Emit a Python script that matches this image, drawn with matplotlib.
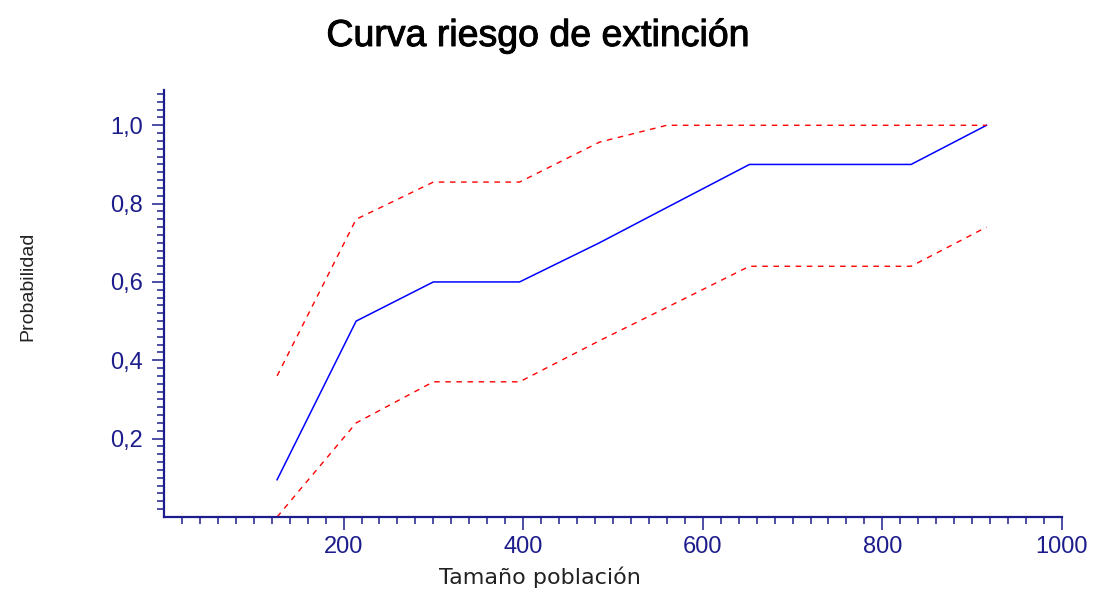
import numpy as np
import matplotlib
matplotlib.use('Agg')
from matplotlib import pyplot as plt
from matplotlib import patheffects
from matplotlib import font_manager
from matplotlib.ticker import FixedLocator, FuncFormatter

## values
tamano = [126, 214, 300, 396, 485, 560, 652, 832, 916]
riesgo = [0.095, 0.50, 0.60, 0.60, 0.70, 0.79, 0.90, 0.90, 1.00]
limite_sup = [0.36, 0.76, 0.855, 0.855, 0.957, 1.00, 1.00, 1.00, 1.00]
limite_inf = [0.00, 0.24, 0.345, 0.345, 0.45, 0.535, 0.64, 0.64, 0.74]

x_major = [200, 400, 600, 800, 1000]
y_major = [0.2, 0.4, 0.6, 0.8, 1.0]

navy = '#1c1c8c'
plt.rcParams['font.family'] = ['Liberation Sans', 'DejaVu Sans']

names = {f.name for f in font_manager.fontManager.ttflist}
if 'Liberation Sans Narrow' in names:
    ylab_font, ylab_size = ['Liberation Sans Narrow'], 17
else:
    ylab_font, ylab_size = ['Liberation Sans'], 14

fig = plt.figure(figsize=(10.93, 5.99), dpi=100, facecolor='w')
ax = fig.add_axes([0.150, 0.137, 0.8216, 0.7127])

ax.plot(tamano, riesgo, color='#0000ff', lw=1.1, clip_on=False)
ax.plot(tamano, limite_sup, color='#ff0000', lw=1.0, ls=(0, (4, 4)), clip_on=False)
ax.plot(tamano, limite_inf, color='#ff0000', lw=1.0, ls=(0, (4, 4)), clip_on=False)

ax.set_xlim(0, 1000)
ax.set_ylim(0, 1.09)

[ax.spines[loc].set_visible(False) for loc in ['top', 'right']]
for loc in ['left', 'bottom']:
    ax.spines[loc].set_color(navy)
    ax.spines[loc].set_linewidth(1.6)

ax.xaxis.set_major_locator(FixedLocator(x_major))
ax.xaxis.set_minor_locator(FixedLocator([v for v in range(20, 1000, 20) if v % 200]))
ax.yaxis.set_major_locator(FixedLocator(y_major))
ax.yaxis.set_minor_locator(FixedLocator([round(v * 0.02, 2) for v in range(1, 55) if v % 10]))

ax.xaxis.set_major_formatter(FuncFormatter(lambda v, p: '%d' % v))
ax.yaxis.set_major_formatter(FuncFormatter(lambda v, p: ('%.1f' % v).replace('.', ',')))

ax.tick_params(which='major', length=9, width=1.1, color=navy, labelcolor=navy, labelsize=17, pad=5)
ax.tick_params(which='minor', length=5, width=1.1, color=navy)
ax.tick_params(axis='y', which='major', pad=6)

ax.set_xlabel('Tamaño población', fontsize=16, color='#222222', family=['DejaVu Sans'])
ax.xaxis.set_label_coords(0.419, -0.117)
ax.set_ylabel('Probabilidad', fontsize=ylab_size, color='#222222', family=ylab_font)
ax.yaxis.set_label_coords(-0.142, 0.54)

fig.text(0.492, 1 - 46 / 599, 'Curva riesgo de extinción', ha='center', va='baseline',
         fontsize=27, color='black',
         path_effects=[patheffects.withStroke(linewidth=0.7, foreground='black')])

fig.savefig('out.png', dpi=100, facecolor='w')
